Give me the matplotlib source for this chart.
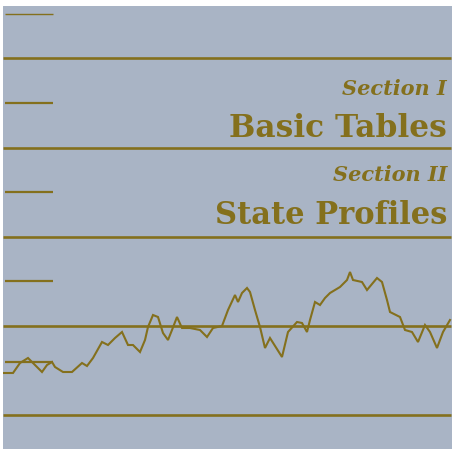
import matplotlib
matplotlib.use("Agg")
import matplotlib.pyplot as plt

# horizontal rules (pixel rows of the cover) and the short marks at the left
rule_rows = [58, 148, 237, 326, 415]
tick_rows = [14, 103, 192, 281, 362]

# the wandering trace (x, y in pixels)
trace_x = [3, 13, 20, 28, 33, 42, 47, 52, 55, 63, 72, 82, 87, 93, 102, 108,
           115, 122, 128, 133, 140, 145, 148, 153, 158, 163, 168, 172, 177,
           182, 190, 200, 207, 213, 222, 228, 235, 238, 242, 247, 250, 255,
           260, 265, 270, 282, 288, 297, 302, 307, 310, 315, 320, 325, 330,
           340, 347, 350, 353, 362, 367, 377, 382, 387, 390, 400, 405, 412,
           418, 425, 430, 437, 443, 450]
trace_y = [373, 373, 363, 358, 363, 372, 365, 362, 367, 372, 372, 363, 366,
           358, 342, 345, 338, 332, 345, 345, 352, 340, 327, 315, 317, 333,
           340, 330, 317, 328, 328, 330, 337, 328, 326, 310, 295, 302, 293,
           288, 292, 310, 327, 348, 338, 357, 332, 322, 323, 332, 320, 302,
           305, 298, 293, 287, 280, 272, 280, 282, 290, 278, 282, 300, 312,
           317, 330, 332, 342, 325, 332, 348, 332, 320]

titles = ["Section I", "Basic Tables", "Section II", "State Profiles"]

bg = "#a9b4c5"
gold = "#84701d"

fig = plt.figure(figsize=(4.53, 4.49), dpi=100, facecolor="white")
ax = fig.add_axes([3 / 453, 0, 449 / 453, 443 / 449])
ax.set_facecolor(bg)
ax.set_xlim(3, 452)
ax.set_ylim(449, 6)
ax.axis("off")
ax.add_patch(plt.Rectangle((3, 6), 449, 443, color=bg, zorder=0))

for r in rule_rows:
    ax.plot([3, 451], [r, r], color=gold, lw=1.9, solid_capstyle="butt")
for i, r in enumerate(tick_rows):
    ax.plot([5, 53], [r, r], color=gold, lw=1.0 if i == 0 else 1.6,
            solid_capstyle="butt")

ax.plot(trace_x, trace_y, color=gold, lw=1.5, solid_joinstyle="miter")

serif = ["DejaVu Serif"]
ax.text(447, 95, titles[0], ha="right", va="baseline", fontsize=15,
        fontweight="bold", fontstyle="italic", family=serif, color=gold)
ax.text(447, 137, titles[1], ha="right", va="baseline", fontsize=22.5,
        fontweight="bold", family=serif, color=gold)
ax.text(447, 181, titles[2], ha="right", va="baseline", fontsize=15,
        fontweight="bold", fontstyle="italic", family=serif, color=gold)
ax.text(447, 224, titles[3], ha="right", va="baseline", fontsize=22,
        fontweight="bold", family=serif, color=gold)

fig.savefig("out.png", dpi=100, facecolor="white")
